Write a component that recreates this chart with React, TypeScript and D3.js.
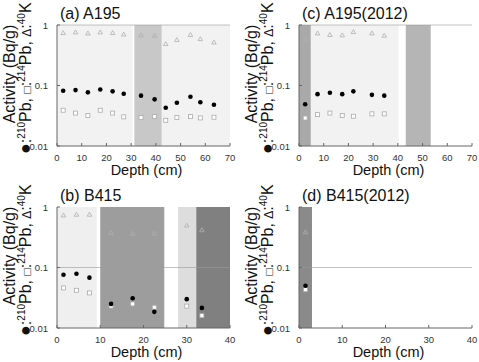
import * as d3 from 'd3';

// A195
const depthA = [2.5, 7.5, 12.5, 17.5, 22.5, 27, 34, 39.5, 44, 48.5, 54, 58, 63.5];
const kA = [0.73, 0.75, 0.72, 0.75, 0.73, 0.69, 0.67, 0.66, 0.48, 0.56, 0.68, 0.58, 0.51];
const pb210A = [0.082, 0.084, 0.077, 0.086, 0.08, 0.073, 0.068, 0.059, 0.043, 0.052, 0.065, 0.053, 0.048];
const pb214A = [0.039, 0.035, 0.032, 0.039, 0.035, 0.0303, 0.0295, 0.0306, 0.0266, 0.0295, 0.0306, 0.0291, 0.0299];

// A195(2012)
const depthC = [2.5, 7.5, 12.5, 17.5, 22, 29.5, 34.5];
const kC = [0.57, 0.72, 0.68, 0.67, 0.76, 0.72, 0.66];
const pb210C = [0.049, 0.072, 0.076, 0.072, 0.08, 0.07, 0.068];
const pb214C = [0.029, 0.033, 0.035, 0.032, 0.031, 0.034, 0.034];

// B415
const depthB = [1.5, 4.5, 7.5, 12.5, 17.5, 22.5, 30, 33.5];
const kB = [0.72, 0.74, 0.74, 0.37, 0.36, 0.36, 0.49, 0.41];
const pb210B = [0.076, 0.079, 0.068, 0.025, 0.031, 0.0185, 0.03, 0.0215];
const pb214B = [0.046, 0.042, 0.038, 0.023, 0.025, 0.022, 0.023, 0.016];

// B415(2012)
const depthD = [1.5];
const kD = [0.38];
const pb210D = [0.05];
const pb214D = [0.043];

// shaded depth zones [from, to, colour]
const bandsA: [number, number, string][] = [[0, 30.6, '#f2f2f2'], [31.3, 42.4, '#c8c8c8'], [42.4, 70, '#f2f2f2']];
const bandsC: [number, number, string][] = [[0, 4.8, '#a9a9a9'], [4.8, 40.3, '#f2f2f2'], [43.2, 53.3, '#b5b5b5']];
const bandsB: [number, number, string][] = [[0, 9.2, '#efefef'], [10, 24.8, '#9d9d9d'], [28, 32.2, '#dddddd'], [32.2, 40, '#808080']];
const bandsD: [number, number, string][] = [[0, 3, '#8a8a8a']];

const yTicks = [1, 0.1, 0.01];
const yTickLabels = ['1', '0.1', '0.01'];

const FONT = '"Liberation Sans", Arial, sans-serif';

type PanelProps = {
  left: number; top: number; xMax: number; title: string;
  depth: number[]; k: number[]; pb210: number[]; pb214: number[];
  bands: [number, number, string][]; grid: number;
};

const Panel = ({ left, top, xMax, title, depth, k, pb210, pb214, bands, grid }: PanelProps) => {
  const w = 173, h = 121;
  const x = d3.scaleLinear().domain([0, xMax]).range([left, left + w]);
  const y = d3.scaleLog().domain([0.01, 1]).range([top + h, top]);
  const xTicks = d3.range(0, xMax + 1, 10);
  const tri = d3.symbol().type(d3.symbolTriangle).size(9)();
  const bottom = top + h;

  return (
    <g fontFamily={FONT}>
      {bands.map(([a, b, c], i) => (
        <rect key={i} x={x(a)} y={top} width={x(b) - x(a)} height={h} fill={c} />
      ))}
      <line x1={left} x2={left + w} y1={y(grid)} y2={y(grid)} stroke="#999" strokeOpacity={0.6} />
      {/* axes */}
      <line x1={left} x2={left} y1={top} y2={bottom} stroke="#666" />
      <line x1={left} x2={left + w} y1={bottom} y2={bottom} stroke="#666" />
      {xTicks.map(t => (
        <g key={t}>
          <line x1={x(t)} x2={x(t)} y1={bottom} y2={bottom - 3} stroke="#666" />
          <text x={x(t)} y={bottom + 15} fontSize={9.5} textAnchor="middle" fill="#333">{t}</text>
        </g>
      ))}
      {yTicks.map((t, i) => (
        <g key={t}>
          <line x1={left} x2={left + 3} y1={y(t)} y2={y(t)} stroke="#666" />
          <text x={left - 9} y={y(t) + 3.5} fontSize={9.5} textAnchor="end" fill="#333">{yTickLabels[i]}</text>
        </g>
      ))}
      {/* markers */}
      {depth.map((d, i) => (
        <path key={'k' + i} d={tri} transform={`translate(${x(d)},${y(k[i])})`} fill="none" stroke="#b0b0b0" strokeWidth={0.8} />
      ))}
      {depth.map((d, i) => (
        <rect key={'s' + i} x={x(d) - 2} y={y(pb214[i]) - 2} width={4} height={4} fill="#fff" stroke="#aaa" strokeWidth={0.8} />
      ))}
      {depth.map((d, i) => (
        <circle key={'c' + i} cx={x(d)} cy={y(pb210[i])} r={2.3} fill="#000" />
      ))}
      <text x={left + 3} y={top - 6} fontSize={16} fill="#111">{title}</text>
      <text x={left + w / 2 + 3} y={bottom + 29} fontSize={14.5} textAnchor="middle" fill="#111">Depth (cm)</text>
      <text transform={`translate(${left - 42},${top + 49}) rotate(-90)`} fontSize={16} textAnchor="middle" fill="#111">Activity (Bq/g)</text>
      <text transform={`translate(${left - 26},${bottom + 8}) rotate(-90)`} fontSize={16} fill="#111">
        <tspan fontSize={18}>●</tspan>:<tspan fontSize={10} dy={-6}>210</tspan><tspan dy={6}>Pb, </tspan>
        <tspan fontSize={12}>□</tspan>:<tspan fontSize={10} dy={-6}>214</tspan><tspan dy={6}>Pb, </tspan>
        <tspan fontSize={12}>Δ</tspan>:<tspan fontSize={10} dy={-6}>40</tspan><tspan dy={6}>K</tspan>
      </text>
    </g>
  );
};

export default function App() {
  return (
    <svg width={479} height={362} style={{ position: 'absolute', left: 0, top: 0, background: '#fff' }}>
      <Panel left={57} top={25} xMax={70} title="(a) A195" depth={depthA} k={kA} pb210={pb210A} pb214={pb214A} bands={bandsA} grid={1} />
      <Panel left={299} top={25} xMax={70} title="(c) A195(2012)" depth={depthC} k={kC} pb210={pb210C} pb214={pb214C} bands={bandsC} grid={1} />
      <Panel left={57} top={207} xMax={40} title="(b) B415" depth={depthB} k={kB} pb210={pb210B} pb214={pb214B} bands={bandsB} grid={0.1} />
      <Panel left={299} top={207} xMax={40} title="(d) B415(2012)" depth={depthD} k={kD} pb210={pb210D} pb214={pb214D} bands={bandsD} grid={0.1} />
    </svg>
  );
}
